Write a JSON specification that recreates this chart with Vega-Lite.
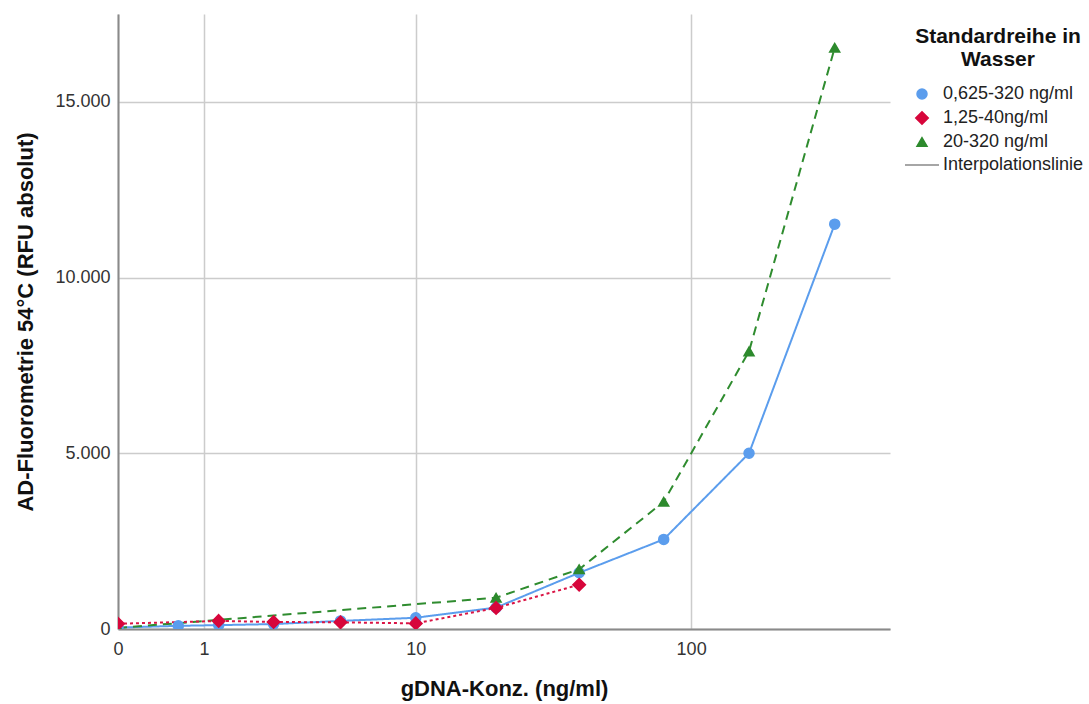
{
  "$schema": "https://vega.github.io/schema/vega-lite/v6.json",
  "width": 772,
  "height": 615,
  "autosize": {"type": "none"},
  "padding": {"left": 118, "top": 14, "right": 199, "bottom": 75},
  "background": "white",
  "config": {
    "view": {"stroke": null},
    "font": "Liberation Sans",
    "axis": {
      "labelFont": "Liberation Sans",
      "labelFontSize": 18,
      "labelColor": "#333333",
      "titleFont": "Liberation Sans",
      "titleFontSize": 22,
      "titleFontWeight": "bold",
      "titleColor": "#111111",
      "domainColor": "#8a8a8a",
      "domainWidth": 2,
      "gridColor": "#cccccc",
      "gridWidth": 1.5,
      "ticks": false,
      "labelFlush": false
    },
    "legend": {
      "orient": "right",
      "offset": 11,
      "padding": 12,
      "titleFont": "Liberation Sans",
      "titleFontSize": 21,
      "titleFontWeight": "bold",
      "titleColor": "#111111",
      "titleAlign": "center",
      "titleAnchor": "middle",
      "titleLineHeight": 23,
      "titlePadding": 15,
      "labelFont": "Liberation Sans",
      "labelFontSize": 18,
      "labelColor": "#222222",
      "labelOffset": 12,
      "rowPadding": 5,
      "symbolSize": 100,
      "symbolStrokeWidth": 1.5
    }
  },
  "data": {
    "values": [
      {"series": "0,625-320 ng/ml", "conc": 0, "rfu": 40},
      {"series": "0,625-320 ng/ml", "conc": 0.625, "rfu": 90},
      {"series": "0,625-320 ng/ml", "conc": 1.25, "rfu": 110},
      {"series": "0,625-320 ng/ml", "conc": 2.5, "rfu": 140},
      {"series": "0,625-320 ng/ml", "conc": 5, "rfu": 230},
      {"series": "0,625-320 ng/ml", "conc": 10, "rfu": 320},
      {"series": "0,625-320 ng/ml", "conc": 20, "rfu": 610},
      {"series": "0,625-320 ng/ml", "conc": 40, "rfu": 1600},
      {"series": "0,625-320 ng/ml", "conc": 80, "rfu": 2550},
      {"series": "0,625-320 ng/ml", "conc": 160, "rfu": 5000},
      {"series": "0,625-320 ng/ml", "conc": 320, "rfu": 11520},
      {"series": "20-320 ng/ml", "conc": 0, "rfu": 30},
      {"series": "20-320 ng/ml", "conc": 20, "rfu": 890},
      {"series": "20-320 ng/ml", "conc": 40, "rfu": 1700},
      {"series": "20-320 ng/ml", "conc": 80, "rfu": 3620},
      {"series": "20-320 ng/ml", "conc": 160, "rfu": 7900},
      {"series": "20-320 ng/ml", "conc": 320, "rfu": 16540},
      {"series": "1,25-40ng/ml", "conc": 0, "rfu": 150},
      {"series": "1,25-40ng/ml", "conc": 1.25, "rfu": 230},
      {"series": "1,25-40ng/ml", "conc": 2.5, "rfu": 200},
      {"series": "1,25-40ng/ml", "conc": 5, "rfu": 190},
      {"series": "1,25-40ng/ml", "conc": 10, "rfu": 160},
      {"series": "1,25-40ng/ml", "conc": 20, "rfu": 600},
      {"series": "1,25-40ng/ml", "conc": 40, "rfu": 1260}
    ]
  },
  "encoding": {
    "x": {
      "field": "conc",
      "type": "quantitative",
      "scale": {"type": "symlog", "constant": 1, "domain": [0, 500], "nice": false},
      "axis": {
        "title": "gDNA-Konz. (ng/ml)",
        "values": [0, 1, 10, 100],
        "format": "d",
        "labelPadding": 11,
        "titlePadding": 20,
        "grid": true
      }
    },
    "y": {
      "field": "rfu",
      "type": "quantitative",
      "scale": {"domain": [0, 17500], "nice": false},
      "axis": {
        "title": "AD-Fluorometrie 54°C (RFU absolut)",
        "values": [0, 5000, 10000, 15000],
        "labelExpr": "replace(format(datum.value, ',d'), ',', '.')",
        "labelPadding": 8,
        "titlePadding": 17,
        "grid": true
      }
    }
  },
  "layer": [
    {
      "mark": {"type": "line", "clip": true, "strokeWidth": 2},
      "encoding": {
        "color": {
          "field": "series",
          "type": "nominal",
          "scale": {
            "domain": ["0,625-320 ng/ml", "1,25-40ng/ml", "20-320 ng/ml"],
            "range": ["#5b9ded", "#da1445", "#2f8c2f"]
          },
          "legend": null
        },
        "strokeDash": {
          "field": "series",
          "type": "nominal",
          "scale": {
            "domain": ["0,625-320 ng/ml", "1,25-40ng/ml", "20-320 ng/ml"],
            "range": [[1, 0], [3, 3], [9, 6]]
          },
          "legend": null
        }
      }
    },
    {
      "mark": {"type": "point", "filled": true, "opacity": 1, "size": 100, "strokeWidth": 1.5, "clip": true},
      "encoding": {
        "fill": {
          "field": "series",
          "type": "nominal",
          "title": ["Standardreihe in", "Wasser"],
          "scale": {
            "domain": ["0,625-320 ng/ml", "1,25-40ng/ml", "20-320 ng/ml", "Interpolationslinie"],
            "range": ["#5b9ded", "#d7063b", "#2d8a2d", "#888888"]
          }
        },
        "stroke": {
          "field": "series",
          "type": "nominal",
          "title": ["Standardreihe in", "Wasser"],
          "scale": {
            "domain": ["0,625-320 ng/ml", "1,25-40ng/ml", "20-320 ng/ml", "Interpolationslinie"],
            "range": ["#5b9ded", "#d7063b", "#2d8a2d", "#888888"]
          }
        },
        "shape": {
          "field": "series",
          "type": "nominal",
          "title": ["Standardreihe in", "Wasser"],
          "scale": {
            "domain": ["0,625-320 ng/ml", "1,25-40ng/ml", "20-320 ng/ml", "Interpolationslinie"],
            "range": ["circle", "M0,-1.25L1.25,0L0,1.25L-1.25,0Z", "triangle-up", "M-3.4,0L3.4,0"]
          }
        }
      }
    }
  ]
}
